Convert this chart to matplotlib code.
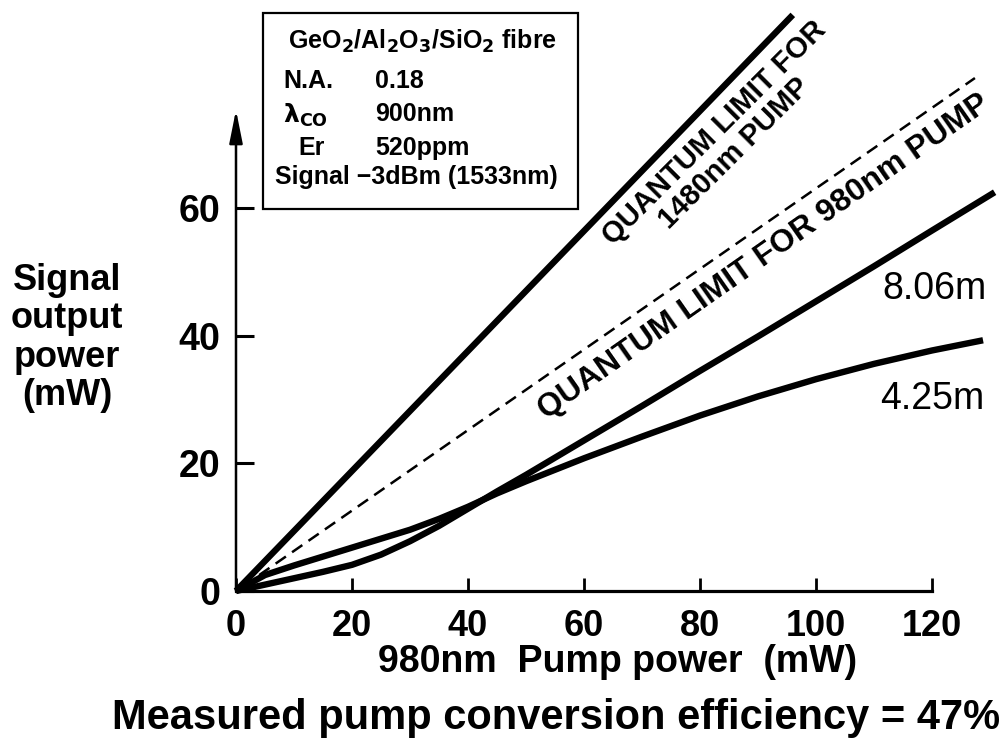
import matplotlib
matplotlib.use('Agg')
import matplotlib.pyplot as plt
from matplotlib.patches import Rectangle

plt.rcParams['font.family'] = ['Liberation Sans', 'DejaVu Sans']

# ---- data ----
pump_806 = [0, 5, 10, 15, 20, 25, 30, 35, 40, 45, 50, 55, 60, 70, 80, 90, 100, 110, 120, 130.8]
signal_806 = [0, 1.0, 2.0, 3.0, 4.1, 5.7, 7.8, 10.2, 12.9, 15.6, 18.2, 20.9, 23.6, 29.0, 34.5, 39.9, 45.4, 50.9, 56.5, 62.5]
pump_425 = [0, 5, 10, 15, 20, 25, 30, 35, 40, 45, 50, 60, 70, 80, 90, 100, 110, 120, 128.8]
signal_425 = [0, 2.5, 4.0, 5.4, 6.8, 8.2, 9.6, 11.3, 13.2, 15.3, 17.2, 20.8, 24.2, 27.5, 30.5, 33.2, 35.6, 37.7, 39.3]
ql1480_pump = [0, 96.0]
ql1480_signal = [0, 90.3]
ql980_pump = [4.0, 127.4]
ql980_signal = [2.5, 80.4]
x_ticks = [0, 20, 40, 60, 80, 100, 120]
y_ticks = [0, 20, 40, 60]

W, H = 1002, 744
fig = plt.figure(figsize=(W / 100, H / 100), dpi=100)

x0, sx = 236, 5.8
y0, sy = 591, 6.38
xmax, ymax = 132, 92
ax = fig.add_axes([x0 / W, (H - y0) / H, xmax * sx / W, ymax * sy / H])
ax.set_xlim(0, xmax)
ax.set_ylim(0, ymax)
ax.patch.set_visible(False)

for s in ['top', 'right', 'left']:
    ax.spines[s].set_visible(False)
ax.spines['bottom'].set_bounds(0, 120)
ax.spines['bottom'].set_linewidth(2.3)

ax.set_xticks(x_ticks)
ax.set_yticks(y_ticks)
ax.tick_params(axis='x', direction='in', length=9.5, width=2, pad=13, labelsize=26)
ax.tick_params(axis='y', direction='in', length=13, width=2.2, pad=11, labelsize=27)
for lab in ax.get_xticklabels() + ax.get_yticklabels():
    lab.set_fontweight('bold')

# y axis with arrow
ax.annotate('', xy=(0, 75.4), xytext=(0, 0), xycoords='data',
            arrowprops=dict(arrowstyle='-|>,head_length=0.8,head_width=0.16',
                            mutation_scale=25, lw=1.8, color='black',
                            shrinkA=0, shrinkB=0),
            annotation_clip=False)

lw = 4.6
ax.plot(ql1480_pump, ql1480_signal, color='black', lw=lw, solid_capstyle='butt', clip_on=False)
ax.plot(ql980_pump, ql980_signal, color='black', lw=1.8, dashes=(5, 3), clip_on=False)
ax.plot(pump_806, signal_806, color='black', lw=lw, solid_capstyle='butt',
        solid_joinstyle='round', clip_on=False)
ax.plot(pump_425, signal_425, color='black', lw=lw, solid_capstyle='butt',
        solid_joinstyle='round', clip_on=False)

# rotated labels
ax.text(84.2, 70.2, 'QUANTUM LIMIT FOR\n1480nm PUMP', rotation=45,
        rotation_mode='anchor', ha='center', va='center', fontsize=21,
        fontweight='bold', multialignment='center', linespacing=1.05)
ax.text(91.0, 52.4, 'QUANTUM LIMIT FOR 980nm PUMP', rotation=35,
        rotation_mode='anchor', ha='center', va='center', fontsize=23,
        fontweight='bold')


def fpx(x, y):
    return x / W, 1 - y / H


fig.text(*fpx(882, 289), '8.06m', fontsize=27, ha='left', va='center')
fig.text(*fpx(880, 399), '4.25m', fontsize=27, ha='left', va='center')

fig.text(*fpx(67, 338), 'Signal\noutput\npower\n(mW)', fontsize=26, ha='center',
         va='center', multialignment='center', linespacing=1.12, fontweight='bold')

fig.text(*fpx(618, 662), '980nm  Pump power  (mW)', fontsize=27, ha='center', va='center',
         fontweight='bold')
fig.text(*fpx(556, 718), 'Measured pump conversion efficiency = 47%', fontsize=30,
         ha='center', va='center', fontweight='bold')

# info box
bx0, by0, bx1, by1 = 263, 13, 578, 209
fig.patches.append(Rectangle((bx0 / W, 1 - by1 / H), (bx1 - bx0) / W, (by1 - by0) / H,
                             transform=fig.transFigure, fill=False, lw=1.6,
                             edgecolor='black'))
fs = 18
kw = dict(fontsize=fs, va='center', fontweight='bold')
fig.text(*fpx(423, 41), r'GeO$_\mathbf{2}$/Al$_\mathbf{2}$O$_\mathbf{3}$/SiO$_\mathbf{2}$ fibre',
         ha='center', **kw)
fig.text(*fpx(283, 81), 'N.A.', ha='left', **kw)
fig.text(*fpx(375, 81), '0.18', ha='left', **kw)
fig.text(*fpx(283, 115), r'$\mathbf{\lambda}_\mathbf{CO}$', ha='left', **kw)
fig.text(*fpx(375, 114), '900nm', ha='left', **kw)
fig.text(*fpx(298, 148), 'Er', ha='left', **kw)
fig.text(*fpx(375, 148), '520ppm', ha='left', **kw)
fig.text(*fpx(275, 177), 'Signal \u22123dBm (1533nm)', ha='left', **kw)

fig.savefig('out.png', dpi=100)
